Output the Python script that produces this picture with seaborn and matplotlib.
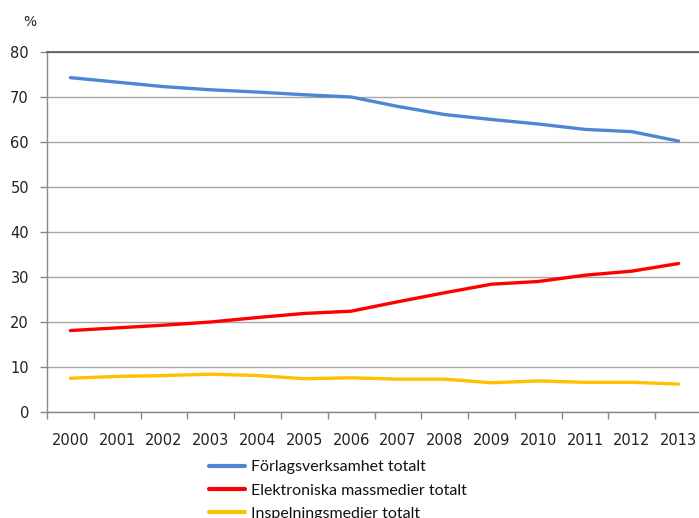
import matplotlib
matplotlib.use("Agg")
import matplotlib.pyplot as plt
import seaborn as sns
import pandas as pd
from matplotlib.ticker import FixedLocator

years = [str(y) for y in range(2000, 2014)]
forlag = [74.3, 73.3, 72.3, 71.6, 71.1, 70.5, 70.0, 67.9, 66.1, 65.0, 64.0, 62.8, 62.3, 60.2]
elektr = [18.1, 18.7, 19.3, 20.0, 21.0, 21.9, 22.4, 24.5, 26.5, 28.4, 29.0, 30.4, 31.3, 33.0]
inspel = [7.5, 7.9, 8.1, 8.4, 8.1, 7.4, 7.6, 7.3, 7.3, 6.5, 6.9, 6.6, 6.6, 6.2]
series_names = ["Förlagsverksamhet totalt", "Elektroniska massmedier totalt", "Inspelningsmedier totalt"]
colors = ["#4F86D4", "#FF0000", "#FFC000"]

df = pd.concat([
    pd.DataFrame({"year": years, "value": vals, "series": name})
    for name, vals in zip(series_names, [forlag, elektr, inspel])
])

sns.set_theme(style="white")
plt.rcParams['font.family'] = ['DejaVu Sans']

fig = plt.figure(figsize=(6.99, 5.18), dpi=100)
ax = fig.add_axes([47/699, (518-412)/518, 655/699, 360/518])

sns.lineplot(data=df, x="year", y="value", hue="series", palette=colors,
             linewidth=2.4, ax=ax, sort=False, legend=True)

ax.set_xlim(-0.5, 13.5)
ax.set_ylim(0, 80)
ax.set_yticks(range(0, 81, 10))
ax.yaxis.grid(True, color="#a6a6a6", linewidth=1.0)
ax.set_axisbelow(True)
ax.set_xlabel("")
ax.set_ylabel("")

ax.tick_params(axis="y", which="major", length=5, width=1, color="#888888",
               pad=8, labelsize=10.5, labelcolor="#222222", left=True)
ax.tick_params(axis="x", which="major", length=0, pad=15, labelsize=10.5, labelcolor="#222222")
ax.xaxis.set_minor_locator(FixedLocator([i - 0.5 for i in range(15)]))
ax.tick_params(axis="x", which="minor", length=5, width=1, color="#888888", bottom=True)

for s in ["right"]:
    ax.spines[s].set_visible(False)
ax.spines["top"].set_color("#555555")
ax.spines["top"].set_linewidth(1.2)
ax.spines["left"].set_color("#888888")
ax.spines["bottom"].set_color("#888888")
ax.spines["left"].set_linewidth(1)
ax.spines["bottom"].set_linewidth(1)

fig.text(30/699, 1 - 22/518, "%", ha="center", va="center", fontsize=10, color="#222222")

leg = ax.legend(loc="upper left", bbox_to_anchor=(209/699, 1 - 460/518),
                bbox_transform=fig.transFigure, frameon=False,
                handlelength=2.26, handletextpad=0.37, labelspacing=0.58,
                borderpad=0, borderaxespad=0, prop={"family": "Lato", "size": 11.5})
for line in leg.get_lines():
    line.set_linewidth(3)
for t in leg.get_texts():
    t.set_color("#111111")

fig.savefig("out.png", dpi=100)
